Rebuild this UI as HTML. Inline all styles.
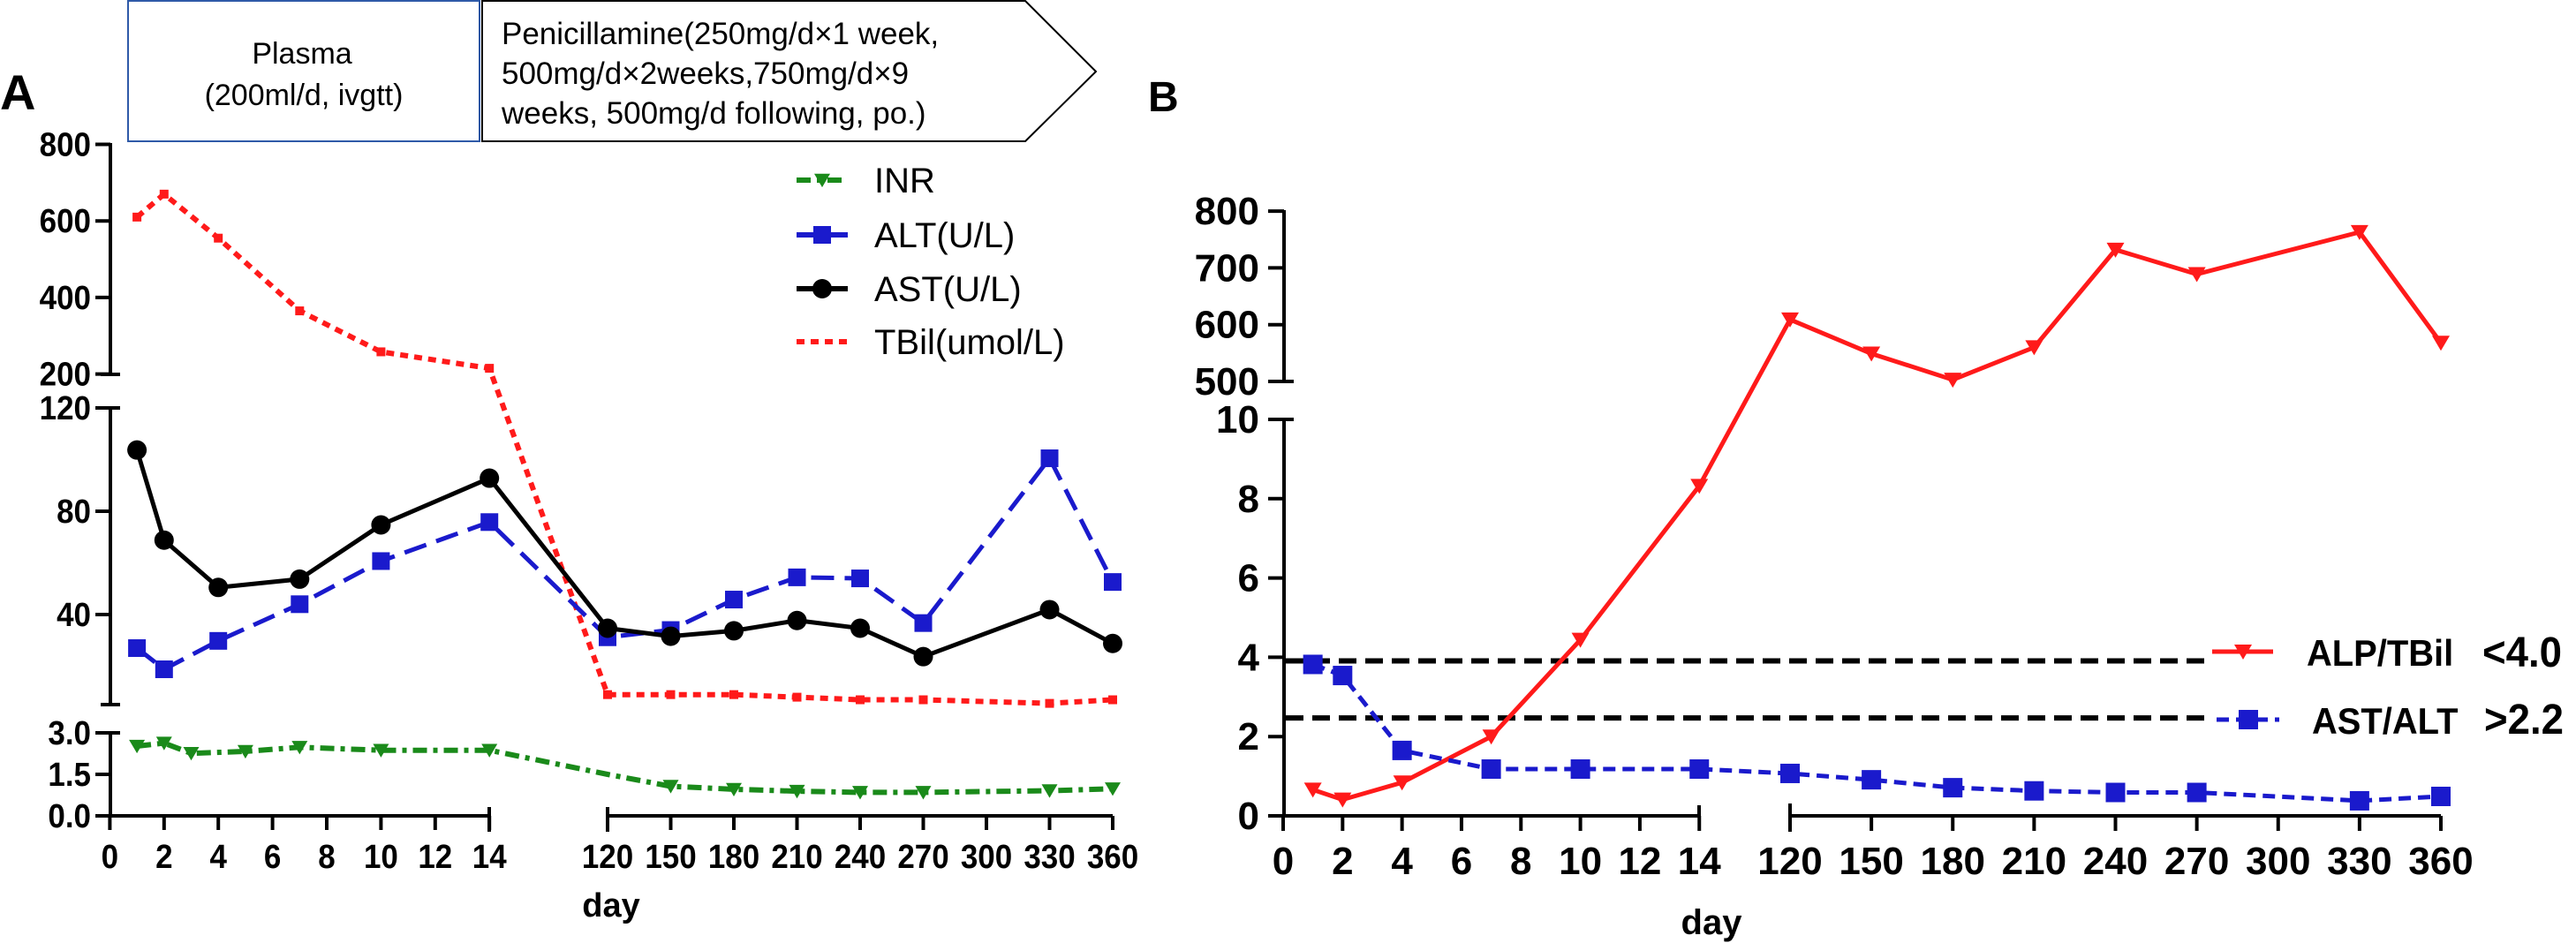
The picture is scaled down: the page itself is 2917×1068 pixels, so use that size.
<!DOCTYPE html>
<html><head><meta charset="utf-8"><style>
html,body{margin:0;padding:0;background:#fff;}
svg{display:block;font-family:"Liberation Sans",Arial,sans-serif;}
</style></head><body>
<svg id="c" width="2917" height="1068" viewBox="0 0 2917 1068" xmlns="http://www.w3.org/2000/svg">
<g>
<rect x="145" y="1" width="398" height="159" fill="#fff" stroke="#2f5aa8" stroke-width="2"/>
<text x="342" y="72" font-size="34" text-anchor="middle">Plasma</text>
<text x="344" y="119" font-size="34" text-anchor="middle">(200ml/d, ivgtt)</text>
<polygon points="546,1 1161,1 1241,81 1161,160 546,160" fill="#fff" stroke="#000" stroke-width="2"/>
<text x="568" y="50" font-size="35">Penicillamine(250mg/d×1 week,</text>
<text x="568" y="95" font-size="35">500mg/d×2weeks,750mg/d×9</text>
<text x="568" y="140" font-size="35">weeks, 500mg/d following, po.)</text>
</g>
<text x="0" y="124" font-size="56" font-weight="bold">A</text>
<text x="1300" y="126" font-size="48" font-weight="bold">B</text>
<g id="A"></g>
<g id="B"></g>
</svg>
<script>
// ---- Panel A data ----
const daysA = [1,2,4,7,10,14,120,150,180,210,240,270,330,360];
const tbil = [610,670,555,365,258,215,9,9,9,8,7,7,5.6,7];
const ast = [103.7,68.8,50.5,53.7,74.7,92.8,34.7,31.6,33.7,37.7,34.7,23.7,41.9,28.8];
const alt = [27,18.8,29.8,44,60.7,75.8,31.2,34,45.8,54.4,54,36.7,100.5,52.6];
const inrDays = [1,2,3,5,7,10,14,120,150,180,210,240,270,330,360];
const inr = [2.52,2.63,2.26,2.33,2.48,2.37,2.37,1.5,1.07,0.96,0.89,0.85,0.85,0.91,0.98];
const xTicksLow = [0,2,4,6,8,10,12,14];
const xTicksHigh = [120,150,180,210,240,270,300,330,360];
const yTopTicks = [200,400,600,800];
const yMidTicks = [40,80,120];
const yInrTicks = ['0.0','1.5','3.0'];
// ---- Panel B data ----
const daysB = [1,2,4,7,10,14,120,150,180,210,240,270,330,360];
const alpTbil = [0.66,0.41,0.84,2.0,4.44,8.32,609,549,503,560,732,689,763,568];
const astAlt = [3.82,3.54,1.65,1.18,1.18,1.18,1.07,0.91,0.71,0.63,0.59,0.59,0.38,0.49];
const refLines = [3.91,2.47];
const yBLowTicks = [0,2,4,6,8,10];
const yBHighTicks = [500,600,700,800];

const NS='http://www.w3.org/2000/svg';
function el(parent,tag,attrs){const e=document.createElementNS(NS,tag);for(const k in attrs)e.setAttribute(k,attrs[k]);parent.appendChild(e);return e;}
function txt(parent,x,y,s,size,anchor,sx){const t=el(parent,'text',{transform:`translate(${x},${y}) scale(${sx||1},1)`,'font-size':size,'font-weight':'bold','text-anchor':anchor||'middle'});t.textContent=s;return t;}

// ===== Panel A =====
const A=document.getElementById('A');
const xA=d=> d<=14 ? 124.4+30.7*d : 688+(d-120)*(572/240);
const yA=v=> v>=200 ? 423.6-(v-200)*(86.7/200) : 813-v*(117/40);
const yI=v=> 924-v*(47/1.5);
const axA=el(A,'g',{});


const st={stroke:'#000','stroke-width':4,fill:'none'};
el(axA,'line',{x1:125,y1:162,x2:125,y2:424,...st});
el(axA,'line',{x1:125,y1:462,x2:125,y2:798,...st});
el(axA,'line',{x1:125,y1:830,x2:125,y2:924,...st});
el(axA,'line',{x1:123,y1:924,x2:554,y2:924,...st});
el(axA,'line',{x1:688,y1:924,x2:1260,y2:924,...st});
el(axA,'line',{x1:688,y1:914,x2:688,y2:942,...st});
el(axA,'line',{x1:554,y1:914,x2:554,y2:942,...st});
el(axA,'line',{x1:114,y1:798,x2:136,y2:798,...st});
el(axA,'line',{x1:114,y1:424,x2:136,y2:424,...st});
el(axA,'line',{x1:114,y1:462,x2:136,y2:462,...st});
el(axA,'line',{x1:114,y1:830,x2:136,y2:830,...st});
yTopTicks.forEach(v=>{el(axA,'line',{x1:108,y1:yA(v),x2:125,y2:yA(v),...st});txt(axA,103,yA(v)+13,String(v),38,'end',0.92);});
yMidTicks.forEach(v=>{el(axA,'line',{x1:108,y1:yA(v),x2:125,y2:yA(v),...st});txt(axA,103,yA(v)+13,String(v),38,'end',0.92);});
yInrTicks.forEach(s=>{const v=+s;el(axA,'line',{x1:108,y1:yI(v),x2:125,y2:yI(v),...st});txt(axA,103,yI(v)+13,s,38,'end',0.92);});
xTicksLow.concat(xTicksHigh).forEach(d=>{el(axA,'line',{x1:xA(d),y1:924,x2:xA(d),y2:940,...st});txt(axA,xA(d),983,String(d),38,'middle',0.92);});
txt(axA,692,1038,'day',38);

function series(g,xs,ys,xf,yf,color,dash,w){const p=xs.map((d,i)=>`${xf(d).toFixed(1)},${yf(ys[i]).toFixed(1)}`).join(' ');return el(g,'polyline',{points:p,fill:'none',stroke:color,'stroke-width':w,'stroke-dasharray':dash||'none'});}
function tri(g,x,y,s,c){el(g,'polygon',{points:`${x-s},${y-s*0.8} ${x+s},${y-s*0.8} ${x},${y+s*0.9}`,fill:c});}

const gT=el(A,'g',{});
series(gT,daysA,tbil,xA,yA,'#ff1a1a','9 7',6);
daysA.forEach((d,i)=>el(gT,'rect',{x:xA(d)-5,y:yA(tbil[i])-5,width:10,height:10,fill:'#ff1a1a'}));
const gI=el(A,'g',{});
series(gI,inrDays,inr,xA,yI,'#1a8a1a','16 7 5 7',6);
inrDays.forEach((d,i)=>{if(d!==120)tri(gI,xA(d),yI(inr[i]),9,'#1a8a1a');});
const gL=el(A,'g',{});
series(gL,daysA,alt,xA,yA,'#1a1acc','26 12',5);
daysA.forEach((d,i)=>el(gL,'rect',{x:xA(d)-10,y:yA(alt[i])-10,width:20,height:20,fill:'#1a1acc'}));
const gS=el(A,'g',{});
series(gS,daysA,ast,xA,yA,'#000','none',5);
daysA.forEach((d,i)=>el(gS,'circle',{cx:xA(d),cy:yA(ast[i]),r:11,fill:'#000'}));

const lg=el(A,'g',{});
const legItems=[['INR','#1a8a1a','16 7 5 7','tri',204],['ALT(U/L)','#1a1acc','26 12','sq',266],['AST(U/L)','#000','none','ci',327],['TBil(umol/L)','#ff1a1a','9 7','none',387]];
legItems.forEach(it=>{const g=el(lg,'g',{});
el(g,'line',{x1:902,y1:it[4],x2:960,y2:it[4],stroke:it[1],'stroke-width':6,'stroke-dasharray':it[2]});
if(it[3]==='tri')tri(g,931,it[4],9,it[1]);if(it[3]==='sq')el(g,'rect',{x:921,y:it[4]-10,width:20,height:20,fill:it[1]});if(it[3]==='ci')el(g,'circle',{cx:931,cy:it[4],r:11,fill:it[1]});
const t=el(g,'text',{x:990,y:it[4]+14,'font-size':40});t.textContent=it[0];});

// ===== Panel B =====
const B=document.getElementById('B');
const xB=d=> d<=14 ? 1453+33.66*d : 2027+(d-120)*(737/240);
const yB=v=> v>=100 ? 432-(v-500)*0.643 : 924-v*44.9;
const axB=el(B,'g',{});
el(axB,'line',{x1:1454,y1:238,x2:1454,y2:432,...st});
el(axB,'line',{x1:1454,y1:475,x2:1454,y2:924,...st});
el(axB,'line',{x1:1452,y1:924,x2:1924,y2:924,...st});
el(axB,'line',{x1:2027,y1:924,x2:2764,y2:924,...st});
el(axB,'line',{x1:1924,y1:912,x2:1924,y2:924,...st});
el(axB,'line',{x1:2027,y1:910,x2:2027,y2:942,...st});
el(axB,'line',{x1:1436,y1:432,x2:1465,y2:432,...st});
el(axB,'line',{x1:1436,y1:475,x2:1465,y2:475,...st});
yBHighTicks.forEach(v=>{el(axB,'line',{x1:1436,y1:yB(v),x2:1454,y2:yB(v),...st});txt(axB,1426,yB(v)+15,String(v),44,'end');});
yBLowTicks.forEach(v=>{el(axB,'line',{x1:1436,y1:yB(v),x2:1454,y2:yB(v),...st});txt(axB,1426,yB(v)+15,String(v),44,'end');});
xTicksLow.concat(xTicksHigh).forEach(d=>{el(axB,'line',{x1:xB(d),y1:924,x2:xB(d),y2:941,...st});txt(axB,xB(d),990,String(d),44);});
txt(axB,1938,1058,'day',40);
const gRef=el(B,'g',{});
refLines.forEach(v=>el(gRef,'line',{x1:1456,y1:yB(v),x2:2498,y2:yB(v),stroke:'#000','stroke-width':6,'stroke-dasharray':'20 10'}));
const gR=el(B,'g',{});
series(gR,daysB,alpTbil,xB,yB,'#ff1a1a','none',5);
daysB.forEach((d,i)=>tri(gR,xB(d),yB(alpTbil[i]),10,'#ff1a1a'));
const gA=el(B,'g',{});
series(gA,daysB,astAlt,xB,yB,'#1a1acc','14 8',5);
daysB.forEach((d,i)=>el(gA,'rect',{x:xB(d)-11,y:yB(astAlt[i])-11,width:22,height:22,fill:'#1a1acc'}));
const lb=el(B,'g',{});
const e1=el(lb,'g',{});
el(e1,'line',{x1:2505,y1:738,x2:2574,y2:738,stroke:'#ff1a1a','stroke-width':5});tri(e1,2540,738,10,'#ff1a1a');
txt(e1,2612,754,'ALP/TBil',42,'start',0.95);txt(e1,2811,755,'<4.0',48,'start',0.95);
const e2=el(lb,'g',{});
el(e2,'line',{x1:2510,y1:815,x2:2581,y2:815,stroke:'#1a1acc','stroke-width':5,'stroke-dasharray':'14 8'});el(e2,'rect',{x:2535,y:804,width:22,height:22,fill:'#1a1acc'});
txt(e2,2618,831,'AST/ALT',42,'start',0.95);txt(e2,2813,831,'>2.2',48,'start',0.95);
</script>
</body></html>
